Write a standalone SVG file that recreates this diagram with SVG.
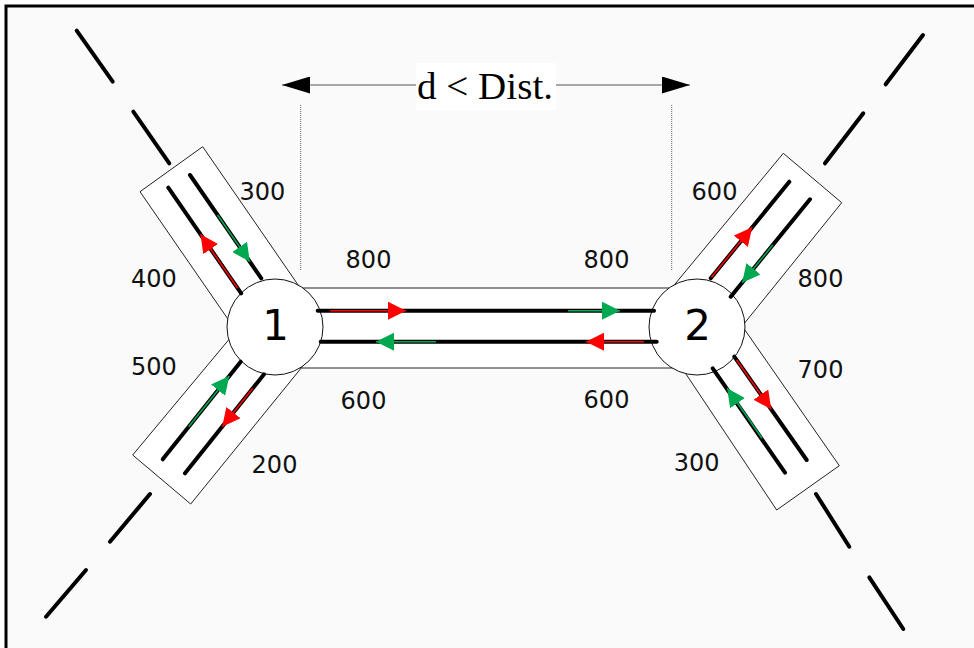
<svg xmlns="http://www.w3.org/2000/svg" width="974" height="648" viewBox="0 0 974 648">
  <style>
    .frame { fill: #fafafa; stroke: #000; stroke-width: 3; }
    .band { fill: #fff; stroke: #222; stroke-width: 1; }
    .node { fill: #fff; stroke: #111; stroke-width: 1; }
    .nlabel { font-family: "DejaVu Sans", sans-serif; font-size: 42px; text-anchor: middle; fill: #000; }
    .cost { font-family: "DejaVu Sans", sans-serif; font-size: 24px; text-anchor: middle; fill: #111; }
    .lane { stroke: #000; stroke-width: 4; stroke-linecap: round; fill: none; }
    .road { stroke: #000; stroke-width: 4; stroke-linecap: round; fill: none; }
    .out { stroke: #ff0000; stroke-width: 1.6; fill: none; marker-end: url(#tri-red); }
    .in { stroke: #00a850; stroke-width: 1.6; fill: none; marker-end: url(#tri-green); }
    .guide { stroke: #666; stroke-width: 1; stroke-dasharray: 1 1; fill: none; }
    .dim { stroke: #555; stroke-width: 1.2; fill: none; marker-start: url(#dim-head); marker-end: url(#dim-head); }
    .dimtext { font-family: "Liberation Serif", "Times New Roman", serif; font-size: 37px; fill: #000; }
  </style>
  <defs>
    <marker id="tri-red" viewBox="0 0 18 18" refX="18" refY="9" markerWidth="18" markerHeight="18" markerUnits="userSpaceOnUse" orient="auto">
      <path d="M0,0 L18,9 L0,18 z" fill="#ff0000"/>
    </marker>
    <marker id="tri-green" viewBox="0 0 18 18" refX="18" refY="9" markerWidth="18" markerHeight="18" markerUnits="userSpaceOnUse" orient="auto">
      <path d="M0,0 L18,9 L0,18 z" fill="#00a850"/>
    </marker>
    <marker id="dim-head" viewBox="0 0 28 17" refX="28" refY="8.5" markerWidth="28" markerHeight="17" markerUnits="userSpaceOnUse" orient="auto-start-reverse">
      <path d="M0,0 L28,8.5 L0,17 z" fill="#000"/>
    </marker>
  </defs>

  <rect x="0" y="0" width="974" height="648" fill="#fff"/>
  <rect class="frame" x="6" y="6" width="1000" height="700"/>

  <!-- roads continuing beyond the corridor -->
  <g id="roads">
    <line class="road" x1="76.7" y1="30.7" x2="112.7" y2="81.7"/>
    <line class="road" x1="133.3" y1="111.7" x2="169.3" y2="163.3"/>
    <line class="road" x1="46" y1="616.7" x2="86" y2="570"/>
    <line class="road" x1="110" y1="541.7" x2="150" y2="494"/>
    <line class="road" x1="923" y1="35" x2="885.7" y2="84.3"/>
    <line class="road" x1="863.3" y1="113.3" x2="825" y2="163.3"/>
    <line class="road" x1="816" y1="494" x2="849.3" y2="546.7"/>
    <line class="road" x1="869.3" y1="577.3" x2="903.3" y2="629"/>
  </g>

  <!-- distance annotation -->
  <g id="distance">
    <line class="guide" x1="300.7" y1="105" x2="300.7" y2="270"/>
    <line class="guide" x1="671.7" y1="105" x2="671.7" y2="270"/>
    <line class="dim" x1="282" y1="85" x2="690" y2="85"/>
    <rect x="416" y="63" width="140" height="47" fill="#fff"/>
    <text class="dimtext" x="417" y="99" textLength="136" lengthAdjust="spacingAndGlyphs">d &lt; Dist.</text>
  </g>

  <!-- road bands around the lanes -->
  <g id="bands">
    <rect class="band" x="275" y="288" width="422" height="80"/>
    <polygon class="band" points="140,191.7 202.7,146.7 304.9,294.8 236.6,331.6"/>
    <polygon class="band" points="132.7,455 190.7,504 307.4,360.4 244.7,320.6"/>
    <polygon class="band" points="783.3,153.3 841.7,202.7 731.8,338.9 662.4,299.3"/>
    <polygon class="band" points="776.7,510 839.3,465.7 736.5,317.9 675.7,358.6"/>
  </g>

  <g id="node1">
    <circle class="node" cx="275" cy="327" r="48"/>
    <text class="nlabel" x="275.5" y="340">1</text>
  </g>
  <g id="node2">
    <circle class="node" cx="697" cy="327" r="48"/>
    <text class="nlabel" x="697.5" y="340">2</text>
  </g>

  <!-- lanes with traffic direction arrows -->
  <g id="connectors">
    <!-- corridor between nodes -->
    <line class="lane" x1="317.7" y1="310.7" x2="654" y2="310.7"/>
    <line class="lane" x1="320.7" y1="341.7" x2="656.7" y2="341.7"/>
    <line class="out" x1="330" y1="310.7" x2="406" y2="310.7"/>
    <line class="in" x1="568" y1="310.7" x2="620" y2="310.7"/>
    <line class="in" x1="436" y1="341.7" x2="376" y2="341.7"/>
    <line class="out" x1="644" y1="341.7" x2="586" y2="341.7"/>

    <!-- node 1, upper left -->
    <line class="lane" x1="168.3" y1="187.7" x2="241.2" y2="293.3"/>
    <line class="lane" x1="190" y1="175" x2="261.3" y2="278.3"/>
    <line class="out" x1="237.7" y1="288.3" x2="200.5" y2="234.3"/>
    <line class="in" x1="217.6" y1="215" x2="249.8" y2="261.7"/>

    <!-- node 1, lower left -->
    <line class="lane" x1="162.7" y1="459.3" x2="240.7" y2="361.7"/>
    <line class="lane" x1="185" y1="473.3" x2="264" y2="374.3"/>
    <line class="in" x1="188.7" y1="426.7" x2="229.3" y2="376"/>
    <line class="out" x1="252.8" y1="388.3" x2="222.2" y2="426.7"/>

    <!-- node 2, upper right -->
    <line class="lane" x1="789.3" y1="181.7" x2="710.7" y2="278.3"/>
    <line class="lane" x1="810" y1="199.3" x2="730.7" y2="296.7"/>
    <line class="out" x1="711.5" y1="277.3" x2="752.2" y2="227.3"/>
    <line class="in" x1="772.8" y1="245" x2="742.1" y2="282.7"/>

    <!-- node 2, lower right -->
    <line class="lane" x1="712.7" y1="368.3" x2="785" y2="472.7"/>
    <line class="lane" x1="734.3" y1="356.7" x2="806.7" y2="460"/>
    <line class="in" x1="762" y1="438.3" x2="727.2" y2="388.3"/>
    <line class="out" x1="736.6" y1="360" x2="771.2" y2="409.3"/>
  </g>

  <!-- lane costs -->
  <g id="costs">
    <text class="cost" x="262.3" y="200">300</text>
    <text class="cost" x="153.8" y="286.7">400</text>
    <text class="cost" x="153.8" y="375">500</text>
    <text class="cost" x="274.5" y="473.3">200</text>
    <text class="cost" x="368.5" y="268">800</text>
    <text class="cost" x="606.5" y="268">800</text>
    <text class="cost" x="363.5" y="409">600</text>
    <text class="cost" x="606.5" y="408">600</text>
    <text class="cost" x="714.5" y="200">600</text>
    <text class="cost" x="820.5" y="286.7">800</text>
    <text class="cost" x="820.5" y="378.3">700</text>
    <text class="cost" x="696.7" y="470.7">300</text>
  </g>
</svg>
